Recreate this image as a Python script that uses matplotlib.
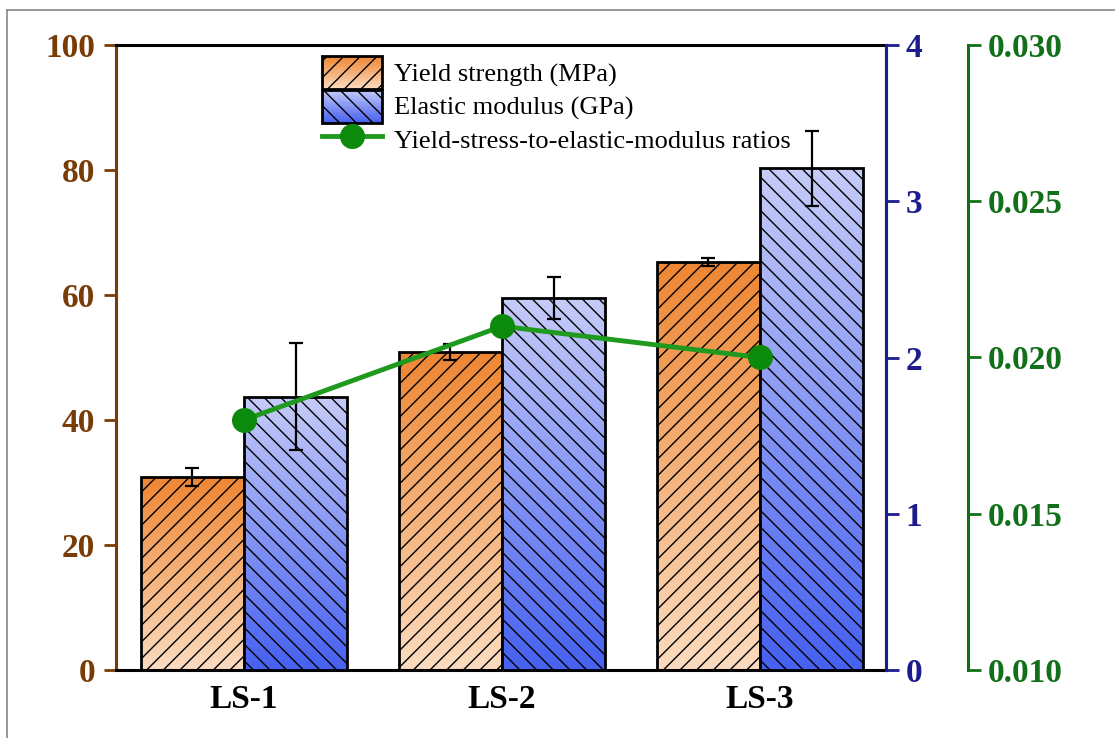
import numpy as np
import matplotlib
matplotlib.use("Agg")
import matplotlib.pyplot as plt
from matplotlib.colors import LinearSegmentedColormap
from matplotlib.patches import Patch, Rectangle
from matplotlib.lines import Line2D
from matplotlib.legend_handler import HandlerBase

plt.rcParams['font.family'] = ['Liberation Serif', 'DejaVu Serif']
plt.rcParams['font.weight'] = 'bold'
plt.rcParams['hatch.linewidth'] = 1.0

# data
categories = ['LS-1', 'LS-2', 'LS-3']
yield_strength = [30.9, 50.9, 65.3]      # MPa
yield_err = [1.4, 1.3, 0.65]
elastic_modulus = [1.75, 2.38, 3.21]     # GPa
modulus_err = [0.34, 0.135, 0.24]
ratio = [0.0180, 0.0210, 0.0200]

brown = '#7a3c06'
navy = '#1c1c8e'
dgreen = '#13701a'
lgreen = '#1f9a1f'

orange_cmap = LinearSegmentedColormap.from_list('org', ['#fbdcc0', '#ee8632'])
blue_cmap = LinearSegmentedColormap.from_list('blu', ['#4660f0', '#c6ccf8'])

fig = plt.figure(figsize=(11.15, 7.38), dpi=100)
ax = fig.add_axes([116 / 1115, 68 / 738, 770 / 1115, 625 / 738])
ax2 = ax.twinx()
ax3 = ax.twinx()

x = np.arange(len(categories))
w = 0.4
grad = np.linspace(0, 1, 256).reshape(-1, 1)


def gradient_bars(axis, xs, heights, cmap, hatch):
    bars = axis.bar(xs, heights, w, facecolor='none', edgecolor='black',
                    linewidth=2, hatch=hatch, zorder=3)
    for b in bars:
        x0, y0 = b.get_x(), b.get_y()
        im = axis.imshow(grad, cmap=cmap, aspect='auto', origin='lower',
                         extent=[x0, x0 + b.get_width(), y0, y0 + b.get_height()],
                         zorder=2)
        im.set_clip_path(b)
    return bars


class GradientHandler(HandlerBase):
    # legend box with the same vertical gradient + hatch as the bars
    def __init__(self, cmap, hatch):
        super().__init__()
        self.cmap = cmap
        self.hatch = hatch

    def create_artists(self, legend, orig_handle, xdescent, ydescent,
                       width, height, fontsize, trans):
        arts = []
        n = 24
        for i in range(n):
            arts.append(Rectangle((-xdescent, -ydescent + height * i / n), width,
                                  height / n * 1.05, facecolor=self.cmap((i + 0.5) / n),
                                  edgecolor='none', transform=trans))
        arts.append(Rectangle((-xdescent, -ydescent), width, height, facecolor='none',
                              edgecolor='black', linewidth=2, hatch=self.hatch,
                              transform=trans))
        return arts


gradient_bars(ax, x - w / 2, yield_strength, orange_cmap, '//')
ax.errorbar(x - w / 2, yield_strength, yerr=yield_err, fmt='none', ecolor='black',
            elinewidth=1.6, capsize=5, capthick=1.6, zorder=4)
gradient_bars(ax2, x + w / 2, elastic_modulus, blue_cmap, '\\\\')
ax2.errorbar(x + w / 2, elastic_modulus, yerr=modulus_err, fmt='none', ecolor='black',
             elinewidth=1.6, capsize=5, capthick=1.6, zorder=4)

ax3.plot(x, ratio, color=lgreen, linewidth=3.5, marker='o', markersize=17,
         markerfacecolor='#0b8a0b', markeredgecolor='#0b8a0b', zorder=5)

for a in (ax, ax2, ax3):
    a.set_xlim(-0.496, 2.488)
ax.set_ylim(0, 100)
ax2.set_ylim(0, 4)
ax3.set_ylim(0.010, 0.030)

ax.set_yticks([0, 20, 40, 60, 80, 100])
ax2.set_yticks([0, 1, 2, 3, 4])
ax3.set_yticks([0.010, 0.015, 0.020, 0.025, 0.030])
ax3.set_yticklabels(['0.010', '0.015', '0.020', '0.025', '0.030'], fontweight='bold')
ax.set_xticks(x)
ax.set_xticklabels(categories, fontsize=24, fontweight='bold')
ax.tick_params(axis='x', length=0, pad=10)

ax.tick_params(axis='y', colors=brown, labelsize=24, width=2, length=9, direction='out', pad=6)
ax2.tick_params(axis='y', colors=navy, labelsize=24, width=2, length=9, direction='out', pad=5)
ax3.tick_params(axis='y', colors=dgreen, labelsize=24, width=2, length=9, direction='out', pad=5)

for a in (ax, ax2, ax3):
    for s in a.spines.values():
        s.set_linewidth(2.2)
ax.spines['left'].set_color(brown)
ax.spines['top'].set_color('black')
ax.spines['bottom'].set_color('black')
ax2.spines['right'].set_color(navy)
ax3.spines['right'].set_position(('axes', 1 + 82 / 770))
ax3.spines['right'].set_color(dgreen)
for s in ('top', 'bottom', 'left'):
    ax3.spines[s].set_visible(False)
    ax2.spines[s].set_visible(False)

h_yield = Patch(label='Yield strength (MPa)')
h_mod = Patch(label='Elastic modulus (GPa)')
h_ratio = Line2D([], [], color=lgreen, linewidth=3.5, marker='o', markersize=17,
                 markerfacecolor='#0b8a0b', markeredgecolor='#0b8a0b',
                 label='Yield-stress-to-elastic-modulus ratios')
ax3.legend([h_yield, h_mod, h_ratio],
           [h.get_label() for h in (h_yield, h_mod, h_ratio)],
           handler_map={h_yield: GradientHandler(orange_cmap, '//'),
                        h_mod: GradientHandler(blue_cmap, '\\\\')},
           loc='upper left', bbox_to_anchor=(322 / 1115, 1 - 56 / 738),
           bbox_transform=fig.transFigure, frameon=False,
           prop={'size': 19, 'weight': 'normal'},
           handlelength=2.27, handleheight=1.55, handletextpad=0.45,
           labelspacing=0.02, borderpad=0, borderaxespad=0)

# thin grey frame around the figure
fig.add_artist(Line2D([7 / 1115, 7 / 1115], [0, 1 - 10 / 738], color='#888888',
                      linewidth=1.2, transform=fig.transFigure))
fig.add_artist(Line2D([7 / 1115, 1], [1 - 10 / 738, 1 - 10 / 738], color='#888888',
                      linewidth=1.2, transform=fig.transFigure))

fig.savefig('out.png', dpi=100)
